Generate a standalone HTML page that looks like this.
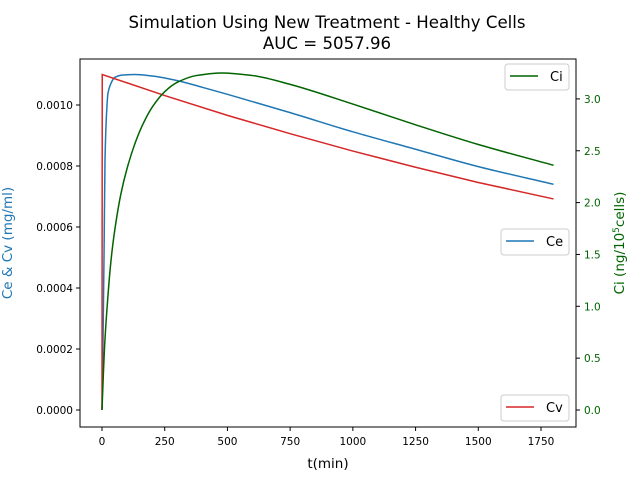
<!DOCTYPE html>
<html><head><meta charset="utf-8"><style>
body{margin:0;background:#fff;font-family:"Liberation Sans","DejaVu Sans",sans-serif;}
svg text{font-family:"DejaVu Sans","Liberation Sans",sans-serif;}
</style></head><body>
<svg id="chart" width="640" height="480" xmlns="http://www.w3.org/2000/svg">
<rect width="640" height="480" fill="#fff"/>
<text x="327" y="28" font-size="16.6" text-anchor="middle">Simulation Using New Treatment - Healthy Cells</text>
<text x="327" y="49" font-size="16.6" text-anchor="middle">AUC = 5057.96</text>
<g id="marks"></g>
<rect x="80" y="59" width="496" height="368" fill="none" stroke="#000" stroke-width="1"/>
<g id="axes"></g>
<text x="328" y="468" font-size="13.5" text-anchor="middle">t(min)</text>
<text transform="translate(12,243) rotate(-90)" font-size="13.5" text-anchor="middle" fill="#1f77b4">Ce &amp; Cv (mg/ml)</text>
<text transform="translate(624,243) rotate(-90)" font-size="13.5" text-anchor="middle" fill="#006400">Ci (ng/10<tspan font-size="9" dy="-5">5</tspan><tspan dy="5">cells)</tspan></text>
<g><rect x="505" y="64" width="64" height="26" rx="3" fill="#fff" stroke="#ccc"/><line x1="510" y1="76" x2="538" y2="76" stroke="#006400" stroke-width="1.5"/><text x="550" y="81" font-size="13">Ci</text></g>
<g><rect x="501" y="229" width="68" height="26" rx="3" fill="#fff" stroke="#ccc"/><line x1="506" y1="241" x2="534" y2="241" stroke="#1f77b4" stroke-width="1.5"/><text x="546" y="246" font-size="13">Ce</text></g>
<g><rect x="501" y="395" width="68" height="26" rx="3" fill="#fff" stroke="#ccc"/><line x1="506" y1="407" x2="534" y2="407" stroke="#d62728" stroke-width="1.5"/><text x="546" y="412" font-size="13">Cv</text></g>
</svg>
<script>
const ceTimes=[0,2,4,8,12,18,24,35,50,80,130,200,300,400,500,750,1000,1250,1500,1800];
const ceValues=[0,0.0001,0.00022,0.0005,0.00082,0.00097,0.00104,0.00107,0.00109,0.001098,0.0011,0.001095,0.00108,0.001058,0.001035,0.000975,0.000912,0.000855,0.000798,0.00074];
const cvTimes=[0,1,250,500,750,1000,1250,1500,1800];
const cvValues=[0,0.0011,0.001031,0.000966,0.000906,0.000849,0.000796,0.000746,0.000692];
const ciTimes=[0,5,10,20,35,50,75,100,130,160,200,250,300,375,478,600,750,1000,1250,1500,1800];
const ciValues=[0,0.32,0.6,0.98,1.42,1.72,2.08,2.33,2.56,2.74,2.92,3.07,3.16,3.225,3.25,3.225,3.14,2.95,2.75,2.56,2.36];
const xTicks=[0,250,500,750,1000,1250,1500,1750];
const leftTicks=[0,0.0002,0.0004,0.0006,0.0008,0.001];
const leftTickLabels=["0.0000","0.0002","0.0004","0.0006","0.0008","0.0010"];
const rightTicks=[0,0.5,1,1.5,2,2.5,3];
const rightTickLabels=["0.0","0.5","1.0","1.5","2.0","2.5","3.0"];

const X=t=>102+t*0.25086;
const YL=v=>410-v*305000;
const YR=v=>410-v*103.7;
const NS="http://www.w3.org/2000/svg";
const marks=document.getElementById('marks'),axes=document.getElementById('axes');
function mk(tag,attrs,parent){const e=document.createElementNS(NS,tag);for(const k in attrs)e.setAttribute(k,attrs[k]);parent.appendChild(e);return e;}
function smoothPath(px,py){
  const n=px.length;const d=[],m=new Array(n).fill(0);
  for(let i=0;i<n-1;i++)d.push((py[i+1]-py[i])/(px[i+1]-px[i]));
  m[0]=d[0];m[n-1]=d[n-2];
  for(let i=1;i<n-1;i++){m[i]=(d[i-1]*d[i]<=0)?0:2/(1/d[i-1]+1/d[i]);}
  let s='M'+px[0]+','+py[0];
  for(let i=0;i<n-1;i++){const h=(px[i+1]-px[i])/3;
    s+=' C'+(px[i]+h)+','+(py[i]+m[i]*h)+' '+(px[i+1]-h)+','+(py[i+1]-m[i+1]*h)+' '+px[i+1]+','+py[i+1];}
  return s;
}
function line(ts,vs,y,color,name,smooth){
  const px=ts.map(X),py=vs.map(y);
  const p=smooth?mk('path',{d:smoothPath(px,py),fill:'none',stroke:color,'stroke-width':1.5},marks)
    :mk('polyline',{points:px.map((x,i)=>x+','+py[i]).join(' '),fill:'none',stroke:color,'stroke-width':1.5},marks);
  
  
}
line(ceTimes,ceValues,YL,'#1f77b4','ce-line',true);
line(cvTimes,cvValues,YL,'#d62728','cv-line',false);
line(ciTimes,ciValues,YR,'#006400','ci-line',true);
xTicks.forEach(t=>{
  mk('line',{x1:X(t),x2:X(t),y1:427,y2:431,stroke:'#000'},axes);
  const tx=mk('text',{x:X(t),y:445,'font-size':10.5,'text-anchor':'middle'},axes);tx.textContent=t;
  
  
});
leftTicks.forEach((v,i)=>{
  mk('line',{x1:76,x2:80,y1:YL(v),y2:YL(v),stroke:'#000'},axes);
  const tx=mk('text',{x:73,y:YL(v)+4,'font-size':10.5,'text-anchor':'end'},axes);tx.textContent=leftTickLabels[i];
  
  
});
rightTicks.forEach((v,i)=>{
  mk('line',{x1:576,x2:580,y1:YR(v),y2:YR(v),stroke:'#000'},axes);
  const tx=mk('text',{x:584,y:YR(v)+4,'font-size':10.5,fill:'#006400'},axes);tx.textContent=rightTickLabels[i];
  
  
});
</script>
</body></html>
